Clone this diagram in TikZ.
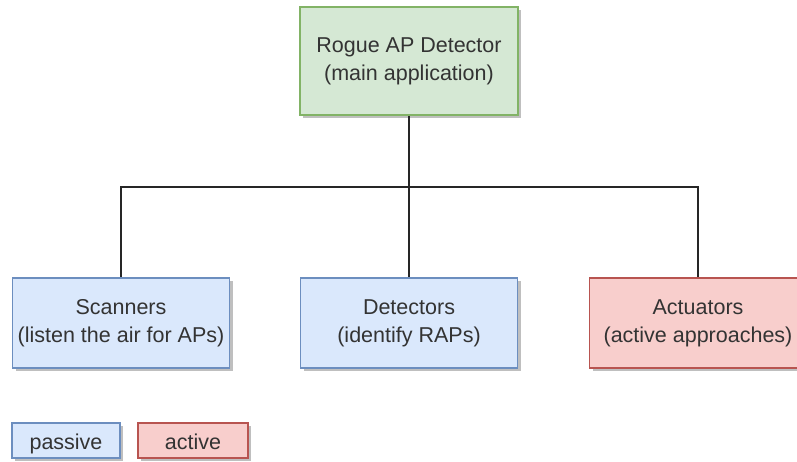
\documentclass[tikz,border=0pt]{standalone}
\usepackage{fontspec}
\setmainfont{Liberation Sans}
\usetikzlibrary{shadows}

\definecolor{greenfill}{HTML}{D5E8D4}
\definecolor{greenline}{HTML}{82B366}
\definecolor{bluefill}{HTML}{DAE8FC}
\definecolor{blueline}{HTML}{6C8EBF}
\definecolor{redfill}{HTML}{F8CECC}
\definecolor{redline}{HTML}{B85450}

\tikzset{
	block/.style={
		rectangle,
		line width=1.6pt,
		inner sep=2pt,
		align=center,
		text=black!80,
		font=\fontsize{21.5}{28}\selectfont,
		drop shadow={shadow xshift=3pt, shadow yshift=-3pt, fill=black, opacity=0.25},
	},
	mainbox/.style={block, draw=greenline, fill=greenfill, minimum width=218pt, minimum height=108pt},
	passivebox/.style={block, draw=blueline, fill=bluefill, minimum width=217pt, minimum height=90pt},
	activebox/.style={block, draw=redline, fill=redfill, minimum width=217pt, minimum height=90pt},
	legendbox/.style={minimum height=35pt, text height=21pt, text depth=4pt},
	link/.style={line width=1.4pt, black!85}
}

\begin{document}
\begin{tikzpicture}[x=1pt, y=-1pt]
	\useasboundingbox (0,0) rectangle (797,461);
	
	\node[mainbox](RAP) at (409,61){Rogue AP Detector\\(main application)};
	
	\node[passivebox](SCAN) at (121,323){Scanners\\(listen the air for APs)};
	\node[passivebox](DET) at (409,323){Detectors\\(identify RAPs)};
	\node[activebox](ACT) at (698,323){Actuators\\(active approaches)};
	
	\coordinate (SPLIT) at (409,187);
	
	\draw[link] (RAP.south) -- (SPLIT);
	\draw[link] (SPLIT) -| (SCAN.north);
	\draw[link] (SPLIT) -| (ACT.north);
	\draw[link] (SPLIT) -- (DET.north);
	
	% legend
	\node[passivebox, legendbox, minimum width=108pt](PAS) at (66,440.5){passive};
	\node[activebox, legendbox, minimum width=110pt](ACTV) at (193,440.5){active};
\end{tikzpicture}
\end{document}
